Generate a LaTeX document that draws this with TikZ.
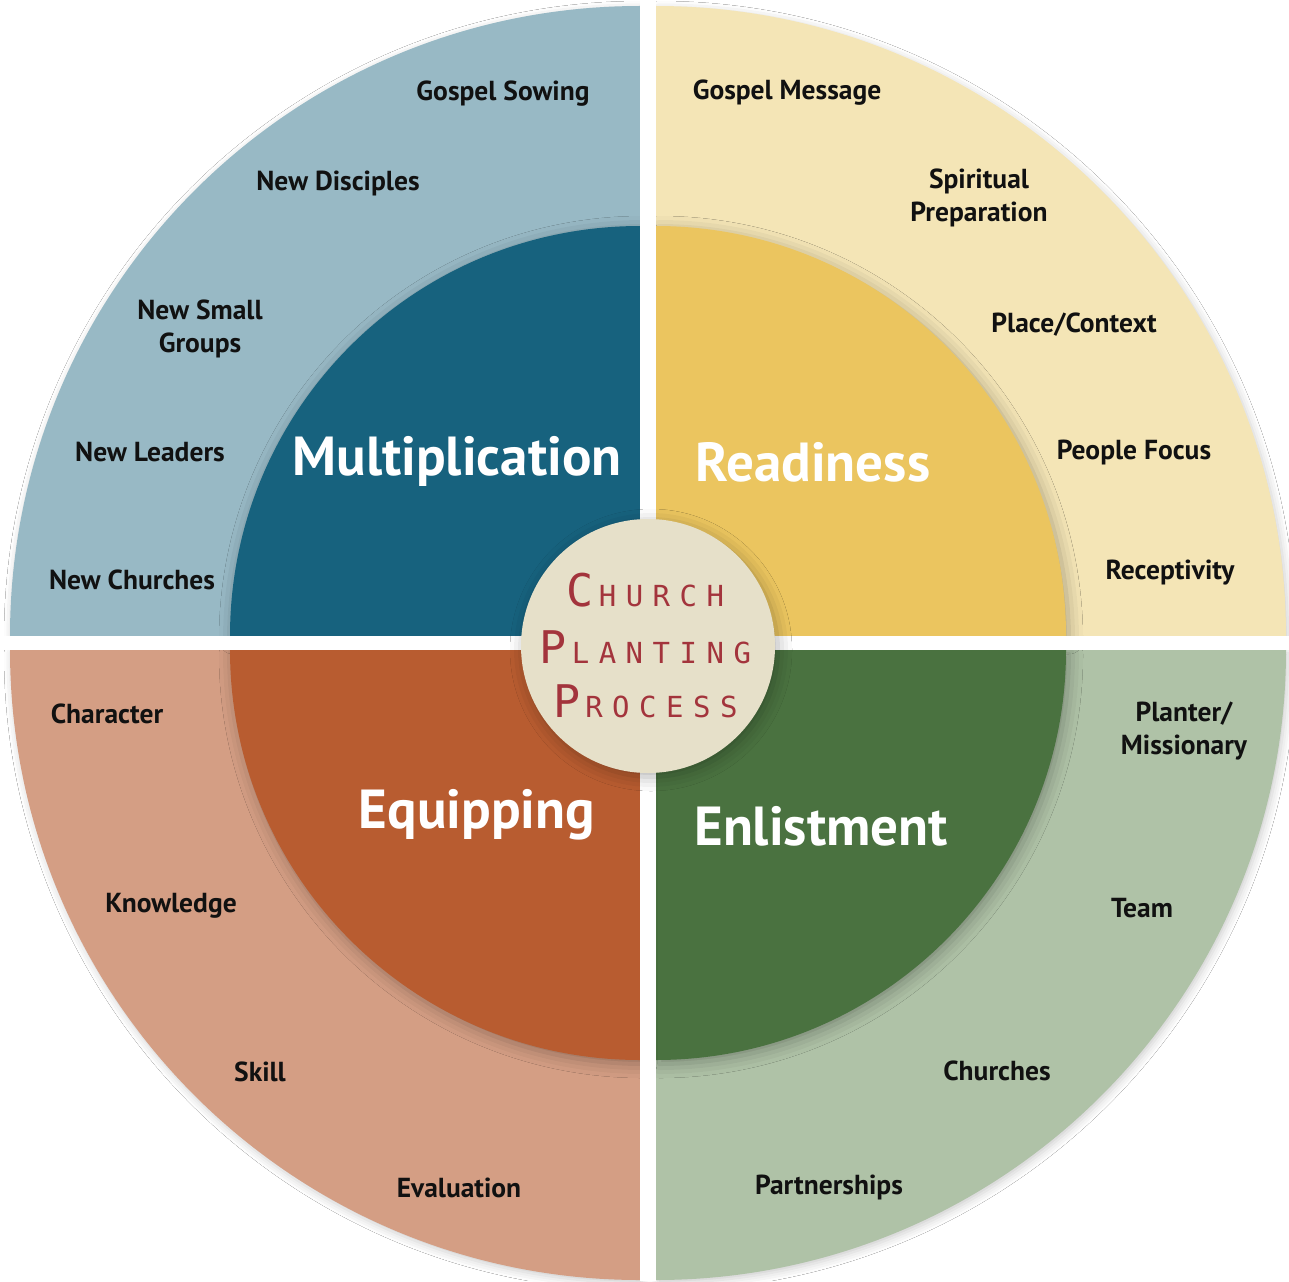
\documentclass[tikz,border=0pt]{standalone}
\usepackage{fontspec}
\setmainfont{PT Sans}
\newfontfamily\centerfont{DejaVu Sans Mono}
\usetikzlibrary{shadows.blur}
\definecolor{tlo}{HTML}{98B9C5}
\definecolor{tli}{HTML}{17627E}
\definecolor{tro}{HTML}{F4E5B6}
\definecolor{tri}{HTML}{EBC55F}
\definecolor{blo}{HTML}{D49E84}
\definecolor{bli}{HTML}{B85C30}
\definecolor{bro}{HTML}{AFC2A7}
\definecolor{bri}{HTML}{4A7240}
\definecolor{cfill}{HTML}{E6E0C9}
\definecolor{ctext}{HTML}{A3343C}
\definecolor{ltext}{HTML}{111111}
\newcommand{\lbx}[1]{\makebox[27pt]{#1}}
\newcommand{\capletter}[1]{{\fontsize{45}{45}\selectfont #1}}
\begin{document}
\begin{tikzpicture}[x=1pt,y=1pt,
  small/.style={font=\bfseries\fontsize{27.5}{33}\selectfont, text=ltext, align=center, inner sep=0pt},
  big/.style={font=\bfseries\fontsize{55}{55}\selectfont, text=white, inner sep=0pt},
  oshadow/.style={blur shadow={shadow xshift=2pt, shadow yshift=-3pt, shadow blur radius=8pt, shadow opacity=20}},
  ishadow/.style={blur shadow={shadow xshift=3pt, shadow yshift=-4pt, shadow blur radius=14pt, shadow opacity=30}},
  ctxt/.style={font=\centerfont\fontsize{29}{29}\selectfont, text=ctext, inner sep=0pt}
]
\useasboundingbox (0,0) rectangle (1289,-1281);
\fill[white] (0,0) rectangle (1289,-1281);
% outer quadrants
\fill[tlo, oshadow] (640,-636) -- ++(-630,0) arc[start angle=180, end angle=90, radius=630] -- cycle;
\fill[tro, oshadow] (656,-636) -- ++(0,630) arc[start angle=90, end angle=0, radius=630] -- cycle;
\fill[bro, oshadow] (656,-650) -- ++(630,0) arc[start angle=0, end angle=-90, radius=630] -- cycle;
\fill[blo, oshadow] (640,-650) -- ++(0,-630) arc[start angle=-90, end angle=-180, radius=630] -- cycle;
% inner quadrants
\fill[tli, ishadow] (640,-636) -- ++(-410,0) arc[start angle=180, end angle=90, radius=410] -- cycle;
\fill[tri, ishadow] (656,-636) -- ++(0,410) arc[start angle=90, end angle=0, radius=410] -- cycle;
\fill[bri, ishadow] (656,-650) -- ++(410,0) arc[start angle=0, end angle=-90, radius=410] -- cycle;
\fill[bli, ishadow] (640,-650) -- ++(0,-410) arc[start angle=-90, end angle=-180, radius=410] -- cycle;
% clean white gaps
\fill[white] (640,0) rectangle (656,-1281);
\fill[white] (0,-636) rectangle (1289,-650);
% center circle
\node[circle, fill=cfill, minimum size=254pt, inner sep=0pt, ishadow] (center) at (648,-646) {};
\node[ctxt] (church) at (648,-590) {\lbx{\capletter{C}}\lbx{H}\lbx{U}\lbx{R}\lbx{C}\lbx{H}};
\node[ctxt] (planting) at (648,-647) {\lbx{\capletter{P}}\lbx{L}\lbx{A}\lbx{N}\lbx{T}\lbx{I}\lbx{N}\lbx{G}};
\node[ctxt] (process) at (648,-701) {\lbx{\capletter{P}}\lbx{R}\lbx{O}\lbx{C}\lbx{E}\lbx{S}\lbx{S}};
% big labels
\node[big] (mult) at (457,-461) {Multiplication};
\node[big] (read) at (813,-462) {Readiness};
\node[big] (equip) at (477,-815) {Equipping};
\node[big] (enlist) at (821,-826) {Enlistment};
% top-left labels
\node[small] (gs) at (503,-94) {Gospel Sowing};
\node[small] (nd) at (338,-183) {New Disciples};
\node[small] (nsg) at (200,-329) {New Small\\Groups};
\node[small] (nl) at (150,-452) {New Leaders};
\node[small] (nc) at (132,-580) {New Churches};
% top-right labels
\node[small] (gm) at (787,-93) {Gospel Message};
\node[small] (sp) at (979,-198) {Spiritual\\Preparation};
\node[small] (pc) at (1074,-325) {Place/Context};
\node[small] (pf) at (1134,-452) {People Focus};
\node[small] (rc) at (1170,-573) {Receptivity};
% bottom-right labels
\node[small] (pm) at (1184,-731) {Planter/\\Missionary};
\node[small] (tm) at (1142,-908) {Team};
\node[small] (ch) at (997,-1071) {Churches};
\node[small] (ps) at (829,-1187) {Partnerships};
% bottom-left labels
\node[small] (chr) at (107,-714) {Character};
\node[small] (kn) at (171,-906) {Knowledge};
\node[small] (sk) at (260,-1072) {Skill};
\node[small] (ev) at (459,-1188) {Evaluation};
\end{tikzpicture}
\end{document}
